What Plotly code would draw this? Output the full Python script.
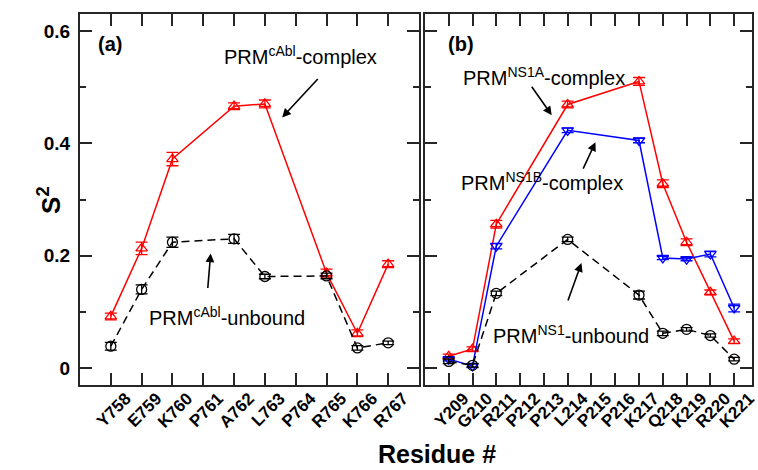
import plotly.graph_objects as go
from plotly.subplots import make_subplots

# ---- data ----
res_a = ["Y758", "E759", "K760", "P761", "A762", "L763", "P764", "R765", "K766", "R767"]
cabl_complex = [0.092, 0.213, 0.372, None, 0.466, 0.470, None, 0.169, 0.062, 0.185]
cabl_complex_err = [0.006, 0.011, 0.012, None, 0.006, 0.007, None, 0.007, 0.006, 0.006]
cabl_unbound = [0.039, 0.140, 0.224, None, 0.230, 0.163, None, 0.164, 0.036, 0.045]
cabl_unbound_err = [0.007, 0.008, 0.009, None, 0.008, 0.004, None, 0.005, 0.004, 0.003]

res_b = ["Y209", "G210", "R211", "P212", "P213", "L214", "P215", "P216", "K217", "Q218", "K219", "R220", "K221"]
ns1a_complex = [0.021, 0.034, 0.256, None, None, 0.469, None, None, 0.510, 0.328, 0.224, 0.135, 0.048]
ns1a_err = [0.004, 0.004, 0.007, None, None, 0.006, None, None, 0.007, 0.007, 0.006, 0.004, 0.004]
ns1b_complex = [0.016, 0.004, 0.217, None, None, 0.423, None, None, 0.405, 0.196, 0.194, 0.203, 0.107]
ns1b_err = [0.003, 0.003, 0.005, None, None, 0.004, None, None, 0.004, 0.003, 0.003, 0.005, 0.007]
ns1_unbound = [0.012, 0.005, 0.133, None, None, 0.229, None, None, 0.130, 0.062, 0.069, 0.058, 0.016]
ns1_unbound_err = [0.004, 0.003, 0.004, None, None, 0.004, None, None, 0.007, 0.004, 0.003, 0.003, 0.003]

FONT = "Liberation Sans"
AXC = "#262626"

fig = make_subplots(rows=1, cols=2, horizontal_spacing=0.0)


def add(x, y, err, color, symbol, dash, col):
    fig.add_trace(go.Scatter(
        x=x, y=y, mode="lines+markers", connectgaps=True,
        line=dict(color=color, width=1.5, dash=dash),
        marker=dict(symbol=symbol, size=10, color=color,
                    line=dict(color=color, width=1.3)),
        error_y=dict(type="data", array=err, visible=True, color=color,
                     thickness=1.3, width=6),
        showlegend=False), row=1, col=col)


add(res_a, cabl_complex, cabl_complex_err, "#ff0000", "triangle-up-open", "solid", 1)
add(res_a, cabl_unbound, cabl_unbound_err, "#000000", "circle-open", "8px,5px", 1)
add(res_b, ns1a_complex, ns1a_err, "#ff0000", "triangle-up-open", "solid", 2)
add(res_b, ns1b_complex, ns1b_err, "#0000ff", "triangle-down-open", "solid", 2)
add(res_b, ns1_unbound, ns1_unbound_err, "#000000", "circle-open", "8px,5px", 2)

W, H = 758, 470
L, R, T, B = 80, 0, 14, 85
pw = W - L - R

xcommon = dict(type="category", showline=True, mirror="ticks", linecolor=AXC,
               linewidth=2, ticks="inside", ticklen=12, tickwidth=1.5,
               tickcolor=AXC, tickangle=-45, showgrid=False, zeroline=False,
               ticklabelstandoff=-5, ticklabelshift=15,
               tickfont=dict(family=FONT, size=17, color="#000", weight="bold"))
ycommon = dict(range=[-0.03, 0.63], tick0=0, dtick=0.2, showline=True,
               mirror="ticks", linecolor=AXC, linewidth=2, ticks="inside",
               ticklen=12, tickwidth=1.5, tickcolor=AXC, showgrid=False,
               zeroline=False,
               minor=dict(ticks="inside", dtick=0.1, ticklen=6, tickwidth=1.5,
                          tickcolor=AXC, showgrid=False),
               tickfont=dict(family=FONT, size=19, color="#000", weight="bold"))

fig.update_layout(
    width=W, height=H, margin=dict(l=L, r=R, t=T, b=B),
    paper_bgcolor="white", plot_bgcolor="white",
    xaxis=dict(xcommon, domain=[0, (422 - L) / pw], range=[-1, 10]),
    xaxis2=dict(xcommon, domain=[(428 - L) / pw, 1], range=[-1, 12.75]),
    yaxis=dict(ycommon, ticklabelstandoff=4),
    yaxis2=dict(ycommon, showticklabels=False),
)

ann = []
tf = dict(family=FONT, size=20, color="#000")
# text labels
ann.append(dict(x=0.96 - 1, y=0.576, xref="x", yref="y", text="<b>(a)</b>",
                showarrow=False, font=dict(family=FONT, size=20, color="#000")))
ann.append(dict(x=0.5, y=0.576, xref="x2", yref="y2", text="<b>(b)</b>",
                showarrow=False, font=dict(family=FONT, size=20, color="#000")))
ann.append(dict(x=6.14, y=0.556, xref="x", yref="y",
                text="PRM<sup>cAbl</sup>-complex", showarrow=False, font=tf))
ann.append(dict(x=3.76, y=0.092, xref="x", yref="y",
                text="PRM<sup>cAbl</sup>-unbound", showarrow=False, font=tf))
ann.append(dict(x=4.0, y=0.519, xref="x2", yref="y2",
                text="PRM<sup>NS1A</sup>-complex", showarrow=False, font=tf))
ann.append(dict(x=3.92, y=0.332, xref="x2", yref="y2",
                text="PRM<sup>NS1B</sup>-complex", showarrow=False, font=tf))
ann.append(dict(x=5.13, y=0.060, xref="x2", yref="y2",
                text="PRM<sup>NS1</sup>-unbound", showarrow=False, font=tf))
# arrows
arr = dict(showarrow=True, arrowhead=2, arrowsize=1.1, arrowwidth=1.6,
           arrowcolor="#000", text="")
ann.append(dict(arr, x=5.56, y=0.446, xref="x", yref="y", ax=37, ay=-40))
ann.append(dict(arr, x=3.24, y=0.204, xref="x", yref="y", ax=-3, ay=36))
ann.append(dict(arr, x=4.33, y=0.450, xref="x2", yref="y2", ax=-21, ay=-30))
ann.append(dict(arr, x=6.17, y=0.402, xref="x2", yref="y2", ax=-13, ay=28))
ann.append(dict(arr, x=5.58, y=0.187, xref="x2", yref="y2", ax=-14, ay=39))
# axis titles
ann.append(dict(x=(30 - L) / pw, y=(H - B - 200) / (H - T - B), xref="paper",
                yref="paper", text="<b>S<sup>2</sup></b>", textangle=-90,
                showarrow=False, font=dict(family=FONT, size=26, color="#000")))
ann.append(dict(x=(440 - L) / pw, y=-(454 - (H - B)) / (H - T - B), xref="paper",
                yref="paper", yanchor="middle", text="<b>Residue #</b>",
                showarrow=False,
                font=dict(family=FONT, size=25, color="#000")))
fig.update_layout(annotations=ann)

fig.write_html("out.html")
